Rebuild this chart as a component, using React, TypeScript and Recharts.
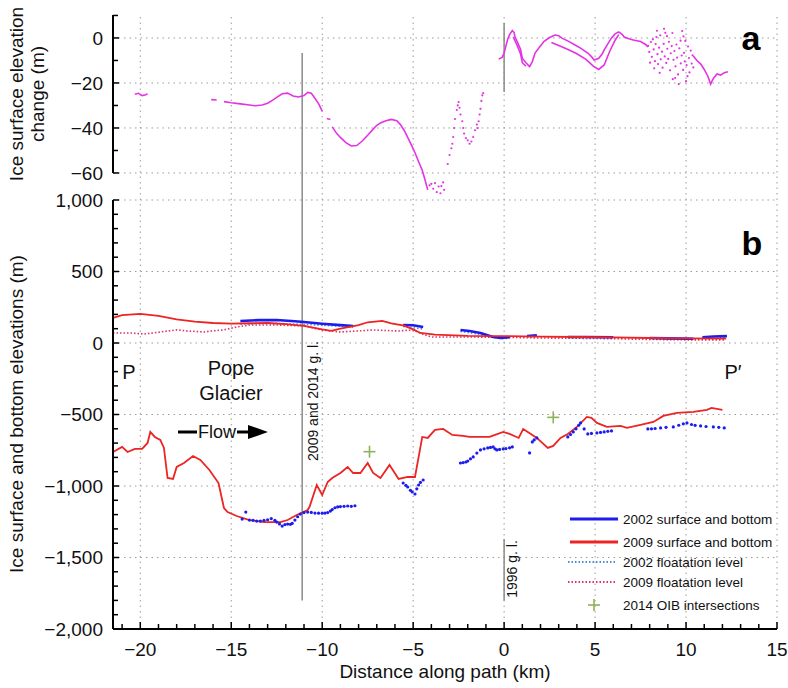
import React from 'react';
import { ComposedChart, Line, Scatter, XAxis, YAxis, ReferenceLine } from 'recharts';

type P = [number, number];

// ---------- axes ----------
const xDomain: [number, number] = [-21.5, 15];
const aDomain: [number, number] = [-72, 10.2];
const bDomain: [number, number] = [-2000, 1000];
const xGrid = [-20, -15, -10, -5, 0, 5, 10, 15];
const xTickValues = [-21, -20, -19, -18, -17, -16, -15, -14, -13, -12, -11, -10, -9, -8, -7, -6, -5, -4, -3, -2, -1, 0, 1, 2, 3, 4, 5, 6, 7, 8, 9, 10, 11, 12, 13, 14, 15];
const xLabels = [-20, -15, -10, -5, 0, 5, 10, 15];
const aTickValues = [10, 0, -10, -20, -30, -40, -50, -60];
const aLabels = [0, -20, -40, -60];
const bTickValues = [1000, 900, 800, 700, 600, 500, 400, 300, 200, 100, 0, -100, -200, -300, -400, -500, -600, -700, -800, -900, -1000, -1100, -1200, -1300, -1400, -1500, -1600, -1700, -1800, -1900, -2000];
const bLabels = [1000, 500, 0, -500, -1000, -1500, -2000];
const bGrid = [1000, 500, 0, -500, -1000, -1500];

// ---------- panel a: ice surface elevation change ----------
const aSeg1: P[] = [[-20.3, -25], [-20.1, -24.6], [-19.9, -25.6], [-19.7, -25.2], [-19.6, -24.8]];
const aSeg2: P[] = [[-16.1, -27.4], [-15.8, -27.6]];
const aSeg3: P[] = [[-15.4, -28.3], [-15.0, -28.8], [-14.5, -29.3], [-14.0, -29.8], [-13.7, -30.1], [-13.3, -29.8], [-13.0, -29.0], [-12.7, -27.5], [-12.5, -26.4], [-12.2, -24.8], [-11.9, -24.5], [-11.6, -25.8], [-11.3, -26.2], [-11.0, -25.6], [-10.8, -24.2], [-10.6, -24.6], [-10.4, -26.8], [-10.2, -29.2], [-10.0, -32.5]];
const aSeg4: P[] = [[-9.75, -35.8], [-9.55, -36.2]];
const aSeg5: P[] = [[-9.45, -39.5], [-9.2, -42.5], [-9.0, -44.2], [-8.7, -46.5], [-8.4, -48], [-8.1, -47.8], [-7.8, -45.8], [-7.5, -43.2], [-7.2, -40.5], [-7.0, -38.8], [-6.8, -37.8], [-6.5, -36.8], [-6.2, -36.2], [-5.9, -36.8], [-5.7, -38.5], [-5.5, -41], [-5.3, -44.2], [-5.1, -47.5], [-4.9, -51], [-4.7, -55], [-4.5, -58.8], [-4.35, -63], [-4.2, -67.5]];
const aSeg6: P[] = [[-0.3, -9.4], [-0.1, -8.5], [0.0, -6.7], [0.1, -3.5], [0.2, -0.5], [0.3, 1.5], [0.45, 3.3], [0.55, 2.4], [0.6, 0.4], [0.75, -2.2], [0.9, -5], [1.0, -9], [1.2, -11], [1.4, -12.7], [1.55, -10.5], [1.7, -6.7], [1.95, -4], [2.2, -1.5], [2.5, 0.2], [2.8, 1.3], [3.0, 1.0], [3.2, -0.2], [3.5, -1.3], [3.9, -3.1], [4.2, -4.5], [4.6, -6.7], [4.8, -8.3], [4.95, -9.8], [5.2, -9], [5.4, -7], [5.5, -5.3], [5.75, -2], [5.9, 0], [6.1, 1.8], [6.3, 2.7], [6.5, 1.5], [6.6, 0.4], [6.9, -0.5], [7.1, -0.9], [7.5, -1.6], [7.8, -3], [7.9, -4]];
const aSeg7: P[] = [[0.5, 0.5], [0.7, -3], [0.9, -7], [1.0, -11], [1.2, -12.5]];
const aSeg8: P[] = [[2.6, -2], [3.2, -4], [3.6, -5.5], [4.0, -7], [4.5, -9.5], [4.9, -12.5], [5.2, -14], [5.5, -12], [5.8, -6], [6.1, -1], [6.3, 1.5]];
const aSeg9: P[] = [[10.4, -8], [10.6, -10], [10.8, -11.5], [11.0, -14], [11.2, -17], [11.35, -20.5], [11.5, -18], [11.7, -16], [11.9, -16.5], [12.1, -15.5], [12.3, -15]];
const aScatter: P[] = [
  [-4.1, -65.5], [-4.0, -64.8], [-3.9, -67], [-3.8, -64.5], [-3.7, -68.5], [-3.6, -66], [-3.5, -69], [-3.45, -65.8], [-3.35, -64.2], [-3.3, -67.5],
  [-3.1, -56], [-3.0, -52], [-2.9, -49], [-2.85, -47], [-2.8, -44], [-2.75, -40], [-2.7, -36], [-2.6, -32], [-2.55, -30], [-2.5, -28.5], [-2.45, -31], [-2.4, -34], [-2.3, -37], [-2.25, -40], [-2.2, -42.5], [-2.1, -44.5], [-2.0, -45.5], [-1.9, -47], [-1.8, -46], [-1.7, -44], [-1.6, -41], [-1.5, -38.5], [-1.45, -40], [-1.4, -37], [-1.35, -34], [-1.3, -31.5], [-1.25, -28], [-1.2, -25.5], [-1.15, -24.5],
  [7.92, -3.5], [7.98, -6.2], [8.07, -1.8], [8.12, -8.4], [8.18, -0.6], [8.22, -5.1], [8.29, -10.3], [8.33, -2.7], [8.37, 0.4], [8.43, -7.2], [8.46, -11.6], [8.52, -4.3], [8.58, 1.2], [8.61, -9.5], [8.68, -6.1], [8.71, -13.2], [8.77, -2.6], [8.83, -8.2], [8.86, 2.3], [8.91, -11.1], [8.97, -4.8], [9.02, -9.3], [9.06, -1.7], [9.12, -14.4], [9.16, -6.8], [9.21, -3.6], [9.27, -18.3], [9.31, -9.7], [9.36, -5.8], [9.42, -12.6], [9.47, -2.9], [9.51, -8.7], [9.56, -16.2], [9.6, -20.5], [9.63, -4.6], [9.71, -11.3], [9.76, -7.8], [9.79, 3.1], [9.84, -14.2], [9.89, -6.6], [9.93, -10.4], [10.0, -19.2], [10.03, -12.1], [10.11, -3.8], [10.16, -8.9], [10.19, -15.3], [10.26, -5.6], [10.31, -11.4], [10.36, -7.7], [10.4, -13.1], [8.4, 3.2], [9.86, 0.7], [8.79, 4.1], [9.96, -1.3], [8.25, -13.5], [9.4, -17.8], [8.95, 0.8], [9.7, -1.2], [8.55, -15.5], [10.08, -17], [9.25, 2.2], [8.02, -11]
];
const aSegments: P[][] = [aSeg1, aSeg2, aSeg3, aSeg4, aSeg5, aSeg6, aSeg7, aSeg8, aSeg9];

// ---------- panel b: surface and bottom elevations ----------
const surf2002Segs: P[][] = [
  [[-14.5, 154], [-13.5, 160], [-12.5, 161], [-11.5, 152], [-11.0, 147], [-10, 135], [-9, 125], [-8.3, 119]],
  [[-5.55, 126], [-5, 124], [-4.45, 112]],
  [[-2.4, 91], [-1.9, 84], [-1.3, 70], [-0.6, 42], [-0.2, 35], [0.3, 40]],
  [[1.26, 49], [1.8, 54]],
  [[3.5, 42], [4.5, 42], [6.0, 40]],
  [[8.0, 35], [9, 32], [10.4, 30]],
  [[10.9, 40], [11.5, 45], [12.25, 48]]
];
const float2002Segs: P[][] = [
  [[-14.5, 132], [-12.5, 137], [-11, 130], [-9, 118], [-8.3, 110]],
  [[-5.55, 115], [-4.45, 98]],
  [[-2.4, 80], [-1.3, 60], [-0.2, 30], [0.3, 33]],
  [[1.26, 42], [1.8, 45]],
  [[3.5, 37], [6, 35]],
  [[8, 30], [10.4, 27]],
  [[10.9, 34], [12.25, 40]]
];
const surf2009: P[] = [[-21.5, 175], [-21, 195], [-20, 203], [-19, 190], [-18, 165], [-17, 150], [-16, 140], [-15, 135], [-14, 138], [-13, 140], [-12, 132], [-11, 120], [-10, 95], [-9.5, 85], [-9, 100], [-8, 125], [-7.5, 145], [-6.7, 154], [-6.2, 138], [-5.5, 122], [-5, 95], [-4.6, 70], [-3.8, 58], [-2, 50], [0, 48], [2, 45], [4, 42], [6, 40], [8, 35], [10, 32], [12.2, 30]];
const float2009: P[] = [[-21.5, 70], [-20.5, 70], [-19.8, 63], [-19, 75], [-18, 92], [-17.5, 85], [-16.5, 77], [-16, 85], [-15.4, 92], [-14.7, 112], [-14, 126], [-12.5, 126], [-11, 119], [-10, 91], [-9, 77], [-7.2, 91], [-5.8, 84], [-5, 91], [-4.5, 63], [-4, 42], [-2, 42], [0, 40], [2, 35], [4, 33], [6, 30], [8, 25], [10, 22], [12.2, 22]];
const bottom2009: P[] = [[-21.5, -762], [-21.0, -727], [-20.7, -762], [-20.3, -741], [-19.9, -741], [-19.6, -699], [-19.45, -622], [-19.2, -657], [-18.9, -678], [-18.7, -734], [-18.5, -944], [-18.2, -951], [-18.0, -867], [-17.6, -839], [-17.1, -790], [-16.7, -818], [-16.2, -888], [-15.7, -979], [-15.4, -1154], [-15.2, -1182], [-14.7, -1210], [-14.0, -1238], [-13.2, -1252], [-12.3, -1252], [-11.9, -1238], [-11.4, -1203], [-10.8, -1168], [-10.7, -1147], [-10.3, -993], [-10.0, -1063], [-9.7, -972], [-9.45, -944], [-9.0, -909], [-8.6, -867], [-8.3, -909], [-7.9, -909], [-7.5, -839], [-7.2, -909], [-6.8, -944], [-6.3, -853], [-5.8, -951], [-5.3, -937], [-4.9, -937], [-4.5, -657], [-4.2, -664], [-3.8, -608], [-3.35, -601], [-2.85, -643], [-2.25, -650], [-1.9, -657], [-1.3, -657], [-0.8, -657], [-0.05, -622], [0.3, -636], [0.8, -664], [1.05, -601], [1.3, -622], [1.8, -664], [2.4, -734], [2.7, -720], [3.1, -664], [3.5, -636], [4.0, -587], [4.55, -517], [4.8, -524], [5.1, -559], [5.65, -587], [6.4, -580], [6.75, -594], [7.5, -573], [8.2, -552], [8.75, -510], [9.5, -489], [10.4, -482], [11.15, -468], [11.4, -454], [12.0, -468]];
const bottom2002: P[] = [
  [-14.4, -1231], [-14.2, -1182], [-14.0, -1238], [-13.8, -1240], [-13.6, -1245], [-13.4, -1245], [-13.2, -1240], [-13.0, -1236], [-12.8, -1228], [-12.6, -1240], [-12.5, -1252], [-12.35, -1265], [-12.2, -1280], [-12.05, -1270], [-11.9, -1266], [-11.75, -1268], [-11.65, -1262], [-11.5, -1238], [-11.35, -1215], [-11.2, -1196], [-11.0, -1186], [-10.8, -1182], [-10.6, -1185], [-10.4, -1189], [-10.2, -1190], [-10.0, -1190], [-9.85, -1189], [-9.7, -1186], [-9.55, -1175], [-9.45, -1165], [-9.3, -1152], [-9.15, -1146], [-9.0, -1144], [-8.8, -1142], [-8.6, -1140], [-8.4, -1142], [-8.2, -1138],
  [-5.55, -979], [-5.4, -995], [-5.3, -1007], [-5.15, -1030], [-5.05, -1042], [-4.9, -1056], [-4.8, -1020], [-4.7, -993], [-4.6, -975], [-4.45, -958],
  [-2.4, -839], [-2.25, -836], [-2.1, -832], [-2.0, -825], [-1.85, -810], [-1.7, -797], [-1.5, -770], [-1.3, -748], [-1.1, -740], [-0.9, -734], [-0.75, -730], [-0.6, -727], [-0.5, -740], [-0.4, -748], [-0.25, -744], [-0.05, -741], [0.1, -738], [0.3, -733], [0.45, -727], [1.4, -769], [1.55, -692], [1.65, -678], [1.8, -664],
  [3.5, -657], [3.65, -640], [3.8, -622], [3.95, -600], [4.1, -575], [4.2, -559], [4.4, -601], [4.6, -636], [4.8, -632], [5.1, -629], [5.3, -625], [5.5, -622], [5.7, -618], [5.9, -615],
  [7.9, -601], [8.1, -600], [8.3, -598], [8.6, -594], [8.9, -590], [9.3, -587], [9.6, -575], [9.85, -565], [10.05, -559], [10.3, -570], [10.5, -576], [10.8, -580], [11.1, -584], [11.5, -587], [11.8, -590], [12.1, -594]
];
const oib2014: P[] = [[-7.4, -760], [2.7, -520]];

// grounding-line markers (km, and vertical extents)
const gl2009x = -11.1;
const gl2009TopA = -6.7;
const gl2009BottomB = -1800;
const gl1996x = 0;
const gl1996TopA = 6.7;
const gl1996BottomA = -24;
const gl1996TopB = -1370;
const gl1996BottomB = -1800;

// ---------- styling ----------
const MAGENTA = '#e433e4';
const BLUE = '#1c1ced';
const RED = '#ec2424';
const LBLUE = '#4d8fd6';
const CRIMSON = '#e0306a';
const GREEN = '#8db356';
const GRID = '#9c9c9c';
const GLGREY = '#8a8a8a';
const FONT = '"Liberation Sans", Arial, Helvetica, sans-serif';

const toPts = (arr: P[]) => arr.map(([x, y]) => ({ x, y }));
const fmt = (v: number) => (v < 0 ? '\u2212' : '') + Math.abs(v).toLocaleString('en-US');

const makeYTick = (labels: number[]) => (props: any) => {
  const { x, y, payload } = props;
  const v = payload.value;
  const major = labels.includes(v);
  return (
    <g>
      <line x1={x} x2={x + (major ? 6 : 5)} y1={y} y2={y} stroke="#000" strokeWidth={1.5} />
      {major && (
        <text x={x - 10} y={y} dy="0.36em" textAnchor="end" fontSize={19} fontFamily={FONT} fill="#111">
          {fmt(v)}
        </text>
      )}
    </g>
  );
};

const XTick = (props: any) => {
  const { x, y, payload } = props;
  const v = payload.value;
  const major = xLabels.includes(v);
  return (
    <g>
      <line x1={x} x2={x} y1={y} y2={y - (major ? 7 : 5)} stroke="#000" strokeWidth={1.5} />
      {major && (
        <text x={x} y={y + 20} dy="0.36em" textAnchor="middle" fontSize={19} fontFamily={FONT} fill="#111">
          {fmt(v)}
        </text>
      )}
    </g>
  );
};

const dotShape = (color: string, r: number) => (p: any) => <circle cx={p.cx} cy={p.cy} r={r} fill={color} />;
const plusShape = (p: any) => (
  <g stroke={GREEN} strokeWidth={1.6}>
    <line x1={p.cx - 6} x2={p.cx + 6} y1={p.cy} y2={p.cy} />
    <line x1={p.cx} x2={p.cx} y1={p.cy - 6} y2={p.cy + 6} />
  </g>
);

const gridProps = { stroke: GRID, strokeDasharray: '1.5 4', strokeWidth: 1, ifOverflow: 'visible' as const };
const Y_AXIS_W = 60;

function TopPanel() {
  return (
    <ComposedChart width={788} height={200} margin={{ top: 15, right: 11, bottom: 0, left: 113 - Y_AXIS_W }}>
      <XAxis type="number" dataKey="x" domain={xDomain} allowDataOverflow hide height={0} />
      <YAxis type="number" dataKey="y" domain={aDomain} allowDataOverflow width={Y_AXIS_W} ticks={aTickValues}
        interval={0} axisLine={false} tickLine={false} tickSize={0} tickMargin={0} tick={makeYTick(aLabels)} />
      {xGrid.map((v) => <ReferenceLine key={'vx' + v} x={v} {...gridProps} />)}
      {aLabels.map((v) => <ReferenceLine key={'hy' + v} y={v} {...gridProps} />)}
      <ReferenceLine segment={[{ x: xDomain[0], y: 10.2 }, { x: xDomain[0], y: -60 }]} stroke="#000" strokeWidth={2} ifOverflow="visible" />
      <ReferenceLine segment={[{ x: gl2009x, y: gl2009TopA }, { x: gl2009x, y: aDomain[0] }]} stroke={GLGREY} strokeWidth={1.5} ifOverflow="visible" />
      <ReferenceLine segment={[{ x: gl1996x, y: gl1996TopA }, { x: gl1996x, y: gl1996BottomA }]} stroke={GLGREY} strokeWidth={1.5} ifOverflow="visible" />
      {aSegments.map((seg, i) => (
        <Line key={'a' + i} data={toPts(seg)} dataKey="y" type="linear" stroke={MAGENTA} strokeWidth={1.6}
          dot={false} isAnimationActive={false} />
      ))}
      <Scatter data={toPts(aScatter)} fill={MAGENTA} shape={dotShape(MAGENTA, 1.1)} isAnimationActive={false} />
    </ComposedChart>
  );
}

function BottomPanel() {
  return (
    <ComposedChart width={788} height={688} margin={{ top: 200, right: 11, bottom: 0, left: 113 - Y_AXIS_W }}>
      <XAxis type="number" dataKey="x" domain={xDomain} allowDataOverflow height={59} ticks={xTickValues}
        interval={0} axisLine={{ stroke: '#000', strokeWidth: 2 }} tickLine={false} tickSize={0} tickMargin={0} tick={XTick} />
      <YAxis type="number" dataKey="y" domain={bDomain} allowDataOverflow width={Y_AXIS_W} ticks={bTickValues}
        interval={0} axisLine={{ stroke: '#000', strokeWidth: 2 }} tickLine={false} tickSize={0} tickMargin={0} tick={makeYTick(bLabels)} />
      {xGrid.map((v) => <ReferenceLine key={'vx' + v} x={v} {...gridProps} />)}
      {bGrid.map((v) => <ReferenceLine key={'hy' + v} y={v} {...gridProps} />)}
      <ReferenceLine segment={[{ x: gl2009x, y: bDomain[1] }, { x: gl2009x, y: gl2009BottomB }]} stroke={GLGREY} strokeWidth={1.5} ifOverflow="visible" />
      <ReferenceLine segment={[{ x: gl1996x, y: gl1996TopB }, { x: gl1996x, y: gl1996BottomB }]} stroke={GLGREY} strokeWidth={1.5} ifOverflow="visible" />
      <Line data={toPts(float2009)} dataKey="y" type="linear" stroke={CRIMSON} strokeWidth={1.6} strokeDasharray="1.5 2" dot={false} isAnimationActive={false} />
      {float2002Segs.map((seg, i) => (
        <Line key={'f2' + i} data={toPts(seg)} dataKey="y" type="linear" stroke={LBLUE} strokeWidth={1.6} strokeDasharray="1.5 2" dot={false} isAnimationActive={false} />
      ))}
      {surf2002Segs.map((seg, i) => (
        <Line key={'s2' + i} data={toPts(seg)} dataKey="y" type="linear" stroke={BLUE} strokeWidth={2.6} dot={false} isAnimationActive={false} />
      ))}
      <Line data={toPts(surf2009)} dataKey="y" type="linear" stroke={RED} strokeWidth={1.8} dot={false} isAnimationActive={false} />
      <Line data={toPts(bottom2009)} dataKey="y" type="linear" stroke={RED} strokeWidth={1.8} dot={false} isAnimationActive={false} />
      <Scatter data={toPts(bottom2002)} fill={BLUE} shape={dotShape(BLUE, 1.6)} isAnimationActive={false} />
      <Scatter data={toPts(oib2014)} fill={GREEN} shape={plusShape} isAnimationActive={false} />
    </ComposedChart>
  );
}

const legendItems = [
  { label: '2002 surface and bottom', color: BLUE, kind: 'solid' },
  { label: '2009 surface and bottom', color: RED, kind: 'solid' },
  { label: '2002 floatation level', color: LBLUE, kind: 'dot' },
  { label: '2009 floatation level', color: CRIMSON, kind: 'dot' },
  { label: '2014 OIB intersections', color: GREEN, kind: 'plus' }
];

function Overlay() {
  const rowsY = [519, 542, 562, 582, 605];
  return (
    <svg width={788} height={688} style={{ position: 'absolute', left: 0, top: 0, pointerEvents: 'none' }} fontFamily={FONT}>
      <text transform="translate(16,94) rotate(-90)" textAnchor="middle" dy="0.35em" fontSize={19} fill="#111">Ice surface elevation</text>
      <text transform="translate(37,94) rotate(-90)" textAnchor="middle" dy="0.35em" fontSize={19} fill="#111">change (m)</text>
      <text transform="translate(16,414) rotate(-90)" textAnchor="middle" dy="0.35em" fontSize={19} fill="#111">Ice surface and bottom elevations (m)</text>
      <text x={445} y={671} textAnchor="middle" dy="0.35em" fontSize={19} fill="#111">Distance along path (km)</text>
      <text x={751} y={38} textAnchor="middle" dy="0.35em" fontSize={34} fontWeight="bold" fill="#000">a</text>
      <text x={752} y={243} textAnchor="middle" dy="0.35em" fontSize={34} fontWeight="bold" fill="#000">b</text>
      <text x={129} y={372} textAnchor="middle" dy="0.35em" fontSize={20} fill="#111">P</text>
      <text x={733} y={372} textAnchor="middle" dy="0.35em" fontSize={20} fill="#111">P′</text>
      <text x={231} y={368} textAnchor="middle" dy="0.35em" fontSize={20} fill="#111">Pope</text>
      <text x={231} y={393} textAnchor="middle" dy="0.35em" fontSize={20} fill="#111">Glacier</text>
      <line x1={178} x2={197} y1={432} y2={432} stroke="#000" strokeWidth={3} />
      <text x={217} y={432} textAnchor="middle" dy="0.35em" fontSize={18} fill="#111">Flow</text>
      <line x1={237} x2={250} y1={432} y2={432} stroke="#000" strokeWidth={3} />
      <polygon points="248,425 268,432 248,439" fill="#000" />
      <text transform="translate(313,401) rotate(-90)" textAnchor="middle" dy="0.35em" fontSize={14} fill="#111">2009 and 2014 g. l.</text>
      <text transform="translate(512,569) rotate(-90)" textAnchor="middle" dy="0.35em" fontSize={14} fill="#111">1996 g. l.</text>
      {legendItems.map((it, i) => {
        const y = rowsY[i];
        return (
          <g key={it.label}>
            {it.kind === 'solid' && <line x1={570} x2={618} y1={y} y2={y} stroke={it.color} strokeWidth={3} />}
            {it.kind === 'dot' && <line x1={568} x2={617} y1={y} y2={y} stroke={it.color} strokeWidth={2} strokeDasharray="1.5 2" />}
            {it.kind === 'plus' && (
              <g stroke={it.color} strokeWidth={1.6}>
                <line x1={588} x2={600} y1={y} y2={y} />
                <line x1={594} x2={594} y1={y - 6} y2={y + 6} />
              </g>
            )}
            <text x={623} y={y} dy="0.35em" fontSize={13.5} fill="#111">{it.label}</text>
          </g>
        );
      })}
    </svg>
  );
}

export default function App() {
  return (
    <div style={{ position: 'absolute', left: 0, top: 0, width: 788, height: 688, background: '#fff', fontFamily: FONT }}>
      <div style={{ position: 'absolute', left: 0, top: 0 }}><BottomPanel /></div>
      <div style={{ position: 'absolute', left: 0, top: 0 }}><TopPanel /></div>
      <Overlay />
    </div>
  );
}
